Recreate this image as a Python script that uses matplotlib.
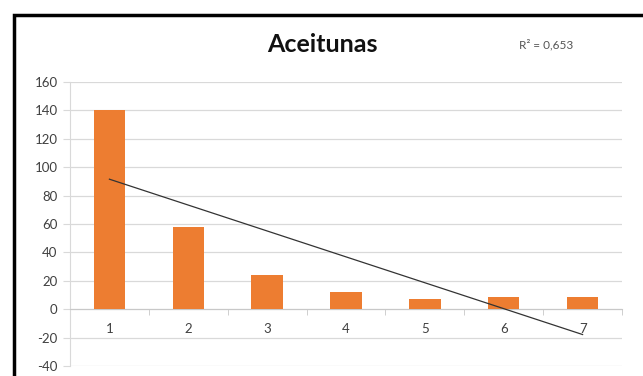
import matplotlib.pyplot as plt
import numpy as np
from matplotlib.patches import Rectangle

categories = [1, 2, 3, 4, 5, 6, 7]
values = [140, 58, 24, 12, 7, 8.5, 8.5]
y_ticks = [-40, -20, 0, 20, 40, 60, 80, 100, 120, 140, 160]

plt.rcParams["font.family"] = ["Lato", "DejaVu Sans"]
plt.rcParams["axes.unicode_minus"] = False

fig = plt.figure(figsize=(6.43, 3.76), dpi=100)
ax = fig.add_axes([70 / 643, 1 - 366 / 376, 552 / 643, 284 / 376])

x = np.array(categories)
y = np.array(values)
ax.bar(x, y, width=0.4, color="#ED7D31", zorder=3)

# linear trendline, as in the spreadsheet chart
slope, intercept = np.polyfit(x, y, 1)
ax.plot([x[0], x[-1]], [slope * x[0] + intercept, slope * x[-1] + intercept],
        color="#333333", linewidth=0.9, zorder=4)

ax.set_xlim(0.5, 7.5)
ax.set_ylim(-40, 160)
ax.set_yticks(y_ticks)
ax.grid(axis="y", color="#d9d9d9", linewidth=0.9, zorder=0)

for side in ["top", "right"]:
    ax.spines[side].set_visible(False)
ax.spines["left"].set_color("#d9d9d9")
ax.spines["bottom"].set_color("#c8c8c8")
ax.spines["bottom"].set_position(("data", 0))

ax.set_xticks(categories)
ax.set_xticklabels([str(c) for c in categories])
ax.set_xticks(np.arange(0.5, 8, 1), minor=True)
ax.tick_params(axis="x", which="major", length=0, pad=10, labelsize=9.5,
               labelcolor="#404040")
ax.tick_params(axis="x", which="minor", length=4, color="#c8c8c8")
ax.tick_params(axis="y", length=5, color="#d9d9d9", labelsize=9.5,
               labelcolor="#404040", pad=4)

fig.text(322 / 643, 1 - 45 / 376, "Aceitunas", ha="center", va="center",
         fontsize=18, fontweight="bold", color="#111111")
fig.text(546 / 643, 1 - 45 / 376, "R² = 0,653", ha="center", va="center",
         fontsize=8.5, color="#555555")

fig.patches.append(Rectangle((14 / 643, -0.1), 1.2, 1 - 15 / 376 + 0.1,
                             transform=fig.transFigure, fill=False,
                             edgecolor="black", linewidth=2.5))

fig.savefig("out.png", dpi=100)
